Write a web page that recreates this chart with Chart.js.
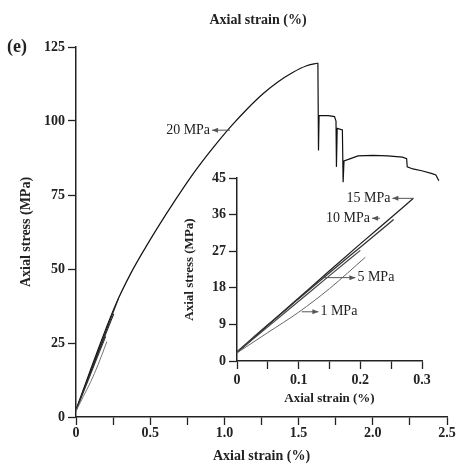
<!DOCTYPE html>
<html>
<head>
<meta charset="utf-8">
<script src="https://cdn.jsdelivr.net/npm/chart.js@4"></script>
<style>
  body { margin: 0; background: #fff; }
  #wrap { position: relative; width: 459px; height: 466px; }
  #mainChart { position: absolute; left: 0; top: 0; }
  #insetChart { position: absolute; left: 170px; top: 160px; }
</style>
</head>
<body>
<div id="wrap">
  <canvas id="mainChart" width="459" height="466"></canvas>
  <canvas id="insetChart" width="270" height="250"></canvas>
</div>
<script>
// 20 MPa, up to the peak
const strain20 = [0, 0.05, 0.1, 0.15, 0.2, 0.27, 0.37, 0.47, 0.57, 0.66, 0.77, 0.88, 0.96, 1.05, 1.15, 1.26, 1.36, 1.46, 1.55, 1.63];
const stress20 = [2.5, 9.3, 16.2, 23.0, 29.6, 38.3, 48.6, 57.4, 65.6, 72.6, 80.8, 88.2, 93.2, 98.5, 103.9, 109.2, 113.2, 116.4, 118.6, 119.6];
// 20 MPa, after the peak
const strain20Post = [1.63, 1.634, 1.638, 1.70, 1.742, 1.752, 1.755, 1.76, 1.795, 1.80, 1.806, 1.85, 1.90, 2.0, 2.1, 2.2, 2.228, 2.232, 2.27, 2.33, 2.40, 2.425, 2.445];
const stress20Post = [119.6, 90.0, 101.8, 101.8, 101.5, 100.0, 84.5, 97.5, 97.0, 79.3, 86.5, 87.3, 88.2, 88.4, 88.2, 87.8, 87.3, 84.5, 83.8, 83.2, 82.2, 81.8, 79.8];
// lower confining pressures
const strain15 = [0, 0.05, 0.1, 0.15, 0.2, 0.25, 0.286];
const stress15 = [2.0, 8.8, 15.5, 22.2, 28.8, 35.3, 40.0];
const strain10 = [0, 0.05, 0.1, 0.15, 0.2, 0.254];
const stress10 = [2.3, 8.9, 15.3, 21.7, 28.0, 34.8];
const strain5 = [0, 0.05, 0.1, 0.15, 0.2];
const stress5 = [2.2, 8.4, 14.7, 21.0, 27.2];
const strain1 = [0, 0.05, 0.1, 0.15, 0.208];
const stress1 = [2.0, 7.0, 12.0, 17.8, 25.5];

const mainXLabels = ['0', '0.5', '1.0', '1.5', '2.0', '2.5'];
const insetXLabels = ['0', '0.1', '0.2', '0.3'];

const serif = '"Liberation Serif", "DejaVu Serif", serif';

function pts(xs, ys) {
  return xs.map((x, i) => ({x: x, y: ys[i]}));
}

function line(xs, ys, color, width, smooth) {
  return {
    data: pts(xs, ys),
    showLine: true,
    borderColor: color,
    borderWidth: width,
    pointRadius: 0,
    tension: 0,
    cubicInterpolationMode: smooth ? 'monotone' : 'default'
  };
}

function drawArrow(ctx, x1, y1, x2, y2) {
  ctx.beginPath();
  ctx.moveTo(x1, y1);
  ctx.lineTo(x2, y2);
  ctx.stroke();
  const a = Math.atan2(y2 - y1, x2 - x1);
  ctx.beginPath();
  ctx.moveTo(x2, y2);
  ctx.lineTo(x2 - 6 * Math.cos(a) + 2.5 * Math.sin(a), y2 - 6 * Math.sin(a) - 2.5 * Math.cos(a));
  ctx.lineTo(x2 - 6 * Math.cos(a) - 2.5 * Math.sin(a), y2 - 6 * Math.sin(a) + 2.5 * Math.cos(a));
  ctx.closePath();
  ctx.fill();
}

// arrows run from the curve (tail) towards the label (head)
function notesPlugin(notes, extra) {
  return {
    id: 'notes',
    afterDatasetsDraw(chart) {
      const ctx = chart.ctx;
      const xs = chart.scales.x, ys = chart.scales.y;
      ctx.save();
      ctx.strokeStyle = '#555';
      ctx.fillStyle = '#555';
      ctx.lineWidth = 1;
      notes.forEach(n => {
        const tx = xs.getPixelForValue(n.tail[0]), ty = ys.getPixelForValue(n.tail[1]);
        const hx = xs.getPixelForValue(n.head[0]), hy = ys.getPixelForValue(n.head[1]);
        drawArrow(ctx, tx, ty, hx, hy);
      });
      ctx.fillStyle = '#222';
      ctx.font = '14px ' + serif;
      ctx.textBaseline = 'middle';
      notes.forEach(n => {
        const hx = xs.getPixelForValue(n.head[0]), hy = ys.getPixelForValue(n.head[1]);
        ctx.textAlign = n.side === 'left' ? 'right' : 'left';
        ctx.fillText(n.text, n.side === 'left' ? hx - 2 : hx + 2, hy);
      });
      if (extra) extra(ctx);
      ctx.restore();
    }
  };
}

function axisStyle() {
  return {
    border: {display: true, color: '#222', width: 1.5},
    grid: {display: true, drawOnChartArea: false, drawTicks: true, tickLength: 8, tickColor: '#222', tickWidth: 1.3}
  };
}

const mainNotes = [
  {text: '20 MPa', tail: [1.038, 96.9], head: [0.917, 96.9], side: 'left'}
];

const insetNotes = [
  {text: '15 MPa', tail: [0.286, 40.0], head: [0.252, 40.0], side: 'left'},
  {text: '10 MPa', tail: [0.232, 35.1], head: [0.219, 35.1], side: 'left'},
  {text: '5 MPa', tail: [0.138, 20.5], head: [0.192, 20.5], side: 'right'},
  {text: '1 MPa', tail: [0.105, 12.1], head: [0.132, 12.1], side: 'right'}
];

new Chart(document.getElementById('mainChart'), {
  type: 'scatter',
  data: {
    datasets: [
      line(strain1, stress1, '#777', 1, true),
      line(strain5, stress5, '#333', 1.1, true),
      line(strain10, stress10, '#222', 1.1, true),
      line(strain15, stress15, '#222', 1.1, true),
      line(strain20, stress20, '#111', 1.2, true),
      line(strain20Post, stress20Post, '#111', 1.2, false)
    ]
  },
  options: {
    responsive: false,
    animation: false,
    layout: {padding: {left: 0, right: 12, top: 47, bottom: 0}},
    plugins: {legend: {display: false}, tooltip: {enabled: false}},
    scales: {
      x: Object.assign(axisStyle(), {
        type: 'linear',
        min: 0, max: 2.5,
        afterFit(s) { s.height = 49; },
        ticks: {
          stepSize: 0.25, autoSkip: false, maxRotation: 0, padding: 0,
          color: '#222', font: {family: serif, size: 14, weight: 'bold'},
          callback(v) {
            const k = v / 0.5;
            return Math.abs(k - Math.round(k)) < 1e-6 ? mainXLabels[Math.round(k)] : '';
          }
        },
        title: {display: true, text: 'Axial strain (%)', color: '#222',
          font: {family: serif, size: 14, weight: 'bold'}, padding: {top: 0, bottom: 1}}
      }),
      y: Object.assign(axisStyle(), {
        type: 'linear',
        min: 0, max: 125,
        afterFit(s) { s.width = 76; },
        ticks: {
          stepSize: 25, autoSkip: false, padding: 3,
          color: '#222', font: {family: serif, size: 14, weight: 'bold'}
        },
        title: {display: true, text: 'Axial stress (MPa)', color: '#222',
          font: {family: serif, size: 14, weight: 'bold'}, padding: {top: 18, bottom: 0}}
      })
    }
  },
  plugins: [notesPlugin(mainNotes, ctx => {
    ctx.fillStyle = '#222';
    ctx.textBaseline = 'middle';
    ctx.textAlign = 'center';
    ctx.font = 'bold 14px ' + serif;
    ctx.fillText('Axial strain (%)', 258, 20);
    ctx.textAlign = 'left';
    ctx.font = 'bold 18px ' + serif;
    ctx.fillText('(e)', 7, 47);
  })]
});

new Chart(document.getElementById('insetChart'), {
  type: 'scatter',
  data: {
    datasets: [
      line(strain1, stress1, '#666', 1, true),
      line(strain5, stress5, '#444', 1.2, true),
      line(strain10, stress10, '#333', 1.3, true),
      line(strain15, stress15, '#222', 1.3, true)
    ]
  },
  options: {
    responsive: false,
    animation: false,
    layout: {padding: {left: 0, right: 18, top: 18, bottom: 0}},
    plugins: {legend: {display: false}, tooltip: {enabled: false}},
    scales: {
      x: Object.assign(axisStyle(), {
        type: 'linear',
        min: 0, max: 0.3,
        afterFit(s) { s.height = 49; },
        ticks: {
          stepSize: 0.05, autoSkip: false, maxRotation: 0, padding: 3,
          color: '#222', font: {family: serif, size: 14, weight: 'bold'},
          callback(v) {
            const k = v / 0.1;
            return Math.abs(k - Math.round(k)) < 1e-6 ? insetXLabels[Math.round(k)] : '';
          }
        },
        title: {display: true, text: 'Axial strain (%)', color: '#222',
          font: {family: serif, size: 13, weight: 'bold'}, padding: {top: 0, bottom: 4}}
      }),
      y: Object.assign(axisStyle(), {
        type: 'linear',
        min: 0, max: 45,
        afterFit(s) { s.width = 67; },
        ticks: {
          stepSize: 9, autoSkip: false, padding: 3,
          color: '#222', font: {family: serif, size: 14, weight: 'bold'}
        },
        title: {display: true, text: 'Axial stress (MPa)', color: '#222',
          font: {family: serif, size: 13, weight: 'bold'}, padding: {top: 12, bottom: 0}}
      })
    }
  },
  plugins: [notesPlugin(insetNotes)]
});
</script>
</body>
</html>
